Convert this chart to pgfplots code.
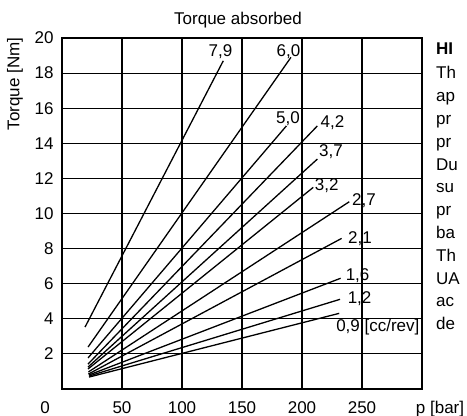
\documentclass[border=0pt]{standalone}
\usepackage{fontspec}
\setmainfont{Liberation Sans}
\usepackage{pgfplots}
\pgfplotsset{compat=1.18}
\usetikzlibrary{calc}

\begin{document}
\fontsize{17}{22.8}\selectfont
\begin{tikzpicture}[tq/.style={black, solid, line width=1.3pt, mark=none}]
\begin{axis}[
    name=ax,
    scale only axis,
    width=360pt, height=351pt,
    xmin=0, xmax=300, ymin=0, ymax=20,
    xtick={50,100,...,250},
    ytick={2,4,...,20},
    grid=major,
    grid style={black, line width=1.1pt},
    axis line style={black, line width=1.1pt},
    major tick length=0pt,
    tick label style={font=\fontsize{17}{20}\selectfont},
    /pgf/number format/assume math mode=true,
    xticklabel style={anchor=base, yshift=-24.5pt},
    yticklabel style={xshift=-2.5pt},
    clip=false,
]
% displacement [cc/rev]: start and end of each line (p [bar], torque [Nm])
\addplot[tq] coordinates {(19.2,3.53) (134.4,18.70)}; % 7,9
\addplot[tq] coordinates {(21.7,2.39) (190.8,18.90)}; % 6,0
\addplot[tq] coordinates {(21.7,1.77) (187.0,14.99)}; % 5,0
\addplot[tq] coordinates {(21.7,1.42) (212.8,14.99)}; % 4,2
\addplot[tq] coordinates {(21.7,1.25) (212.8,13.10)}; % 3,7
\addplot[tq] coordinates {(21.7,1.14) (209.4,11.49)}; % 3,2
\addplot[tq] coordinates {(22.0,0.97) (239.4,10.67)}; % 2,7
\addplot[tq] coordinates {(22.0,0.85) (233.0,8.58)};  % 2,1
\addplot[tq] coordinates {(22.5,0.80) (232.2,6.31)};  % 1,6
\addplot[tq] coordinates {(22.5,0.74) (231.7,5.11)};  % 1,2
\addplot[tq] coordinates {(22.5,0.68) (231.0,4.31)};  % 0,9

\node[anchor=base] at (axis cs:132,18.97) {7,9};
\node[anchor=base] at (axis cs:188.75,18.97) {6,0};
\node[anchor=base] at (axis cs:188.3,15.14) {5,0};
\node[anchor=base] at (axis cs:225.4,14.91) {4,2};
\node[anchor=base] at (axis cs:224.2,13.24) {3,7};
\node[anchor=base] at (axis cs:220.6,11.3) {3,2};
\node[anchor=base] at (axis cs:251.7,10.44) {2,7};
\node[anchor=base] at (axis cs:248.3,8.3) {2,1};
\node[anchor=base] at (axis cs:246.3,6.21) {1,6};
\node[anchor=base] at (axis cs:248,4.88) {1,2};
\node[anchor=base] at (axis cs:263.2,3.26) {0,9 [cc/rev]};
\end{axis}

\node[anchor=base] at ($(ax.north)+(-4pt,13pt)$) {Torque absorbed};
\node[rotate=90] at ($(ax.north west)+(-47pt,-46pt)$) {Torque [Nm]};
\node[anchor=base] at ($(ax.south west)+(-17pt,-24.5pt)$) {0};
\node[anchor=base] at ($(ax.south west)+(378pt,-24.5pt)$) {p [bar]};

\node[anchor=base west, inner sep=0pt] at ($(ax.south west)+(374pt,334pt)$) {\textbf{HI}};
\foreach \t [count=\i from 0] in {Th,ap,pr,pr,Du,su,pr,ba,Th,UA,ac,de}
  \node[anchor=base west, inner sep=0pt] at ($(ax.south west)+(374pt,{310pt-\i*22.8pt})$) {\t};

\pgfresetboundingbox
\path[use as bounding box] ($(ax.south west)+(-62pt,-27pt)$) rectangle ($(ax.north east)+(45pt,38pt)$);
\end{tikzpicture}
\end{document}
